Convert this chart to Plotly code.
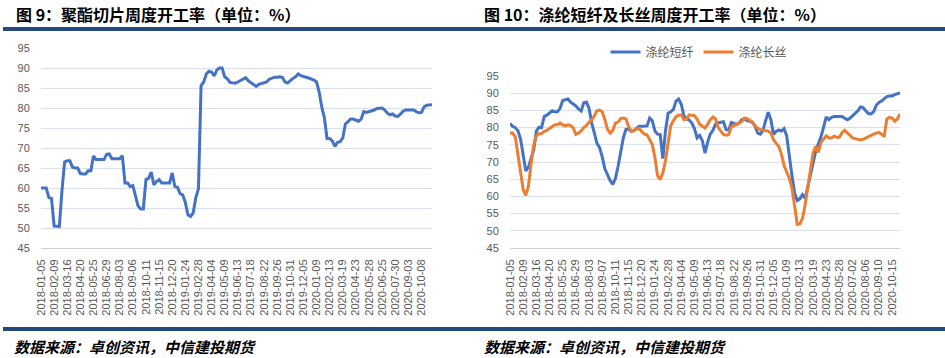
import plotly.graph_objects as go

# ---------------- data ----------------
chip_rate = [60, 60, 60, 57.6, 57.4, 50.5, 50.4, 50.4, 59.4, 66.5,
             66.8, 66.8, 65.2, 65, 65, 63.6, 63.5, 63.5, 64.3, 64.3,
             68, 67.1, 67.1, 67.1, 67.1, 68.4, 68.5, 67.3, 67.3, 67.3,
             67.3, 68.1, 61.25, 61.25, 60.4, 60.6, 57.8, 55.5, 54.75, 54.75,
             62.1, 62.4, 64, 60.8, 61.6, 62.1, 61.25, 61.25, 61.25, 61.25,
             63.75, 60.4, 60.2, 58.6, 58.3, 56.4, 53.3, 52.9, 53.8, 57.6,
             59.8, 85.6, 86.5, 88.5, 89.2, 89, 88, 89.5, 90, 90,
             87.8, 87.3, 86.4, 86.3, 86.2, 86.5, 86.8, 87.2, 87.6, 86.8,
             86.3, 85.75, 85.4, 85.9, 86.1, 86.2, 86.5, 87.2, 87.5, 87.7,
             87.7, 87.8, 87.6, 86.5, 86.25, 86.9, 87.4, 87.8, 88.5, 88.1,
             87.8, 87.7, 87.5, 87.3, 87, 86.5, 84, 80.2, 77.5, 72.4,
             72.4, 71.8, 70.4, 71.4, 71.6, 72.5, 76, 76.6, 77.25, 77.25,
             77, 76.7, 77.2, 79.1, 78.9, 79.1, 79.2, 79.5, 79.9, 80,
             80, 79.5, 78.7, 78.3, 78.5, 78, 77.9, 78.5, 79.2, 79.5,
             79.5, 79.6, 79.5, 79.1, 78.8, 78.9, 80.3, 80.7, 80.8, 80.8]

chip_ticks = ["2018-01-05", "2018-02-09", "2018-03-16", "2018-04-20", "2018-05-25",
              "2018-06-29", "2018-08-03", "2018-09-06", "2018-10-11", "2018-11-15",
              "2018-12-20", "2019-01-24", "2019-02-28", "2019-04-04", "2019-05-09",
              "2019-06-13", "2019-07-18", "2019-08-22", "2019-09-26", "2019-10-31",
              "2019-12-05", "2020-01-09", "2020-02-13", "2020-03-19", "2020-04-23",
              "2020-05-28", "2020-06-25", "2020-07-30", "2020-09-03", "2020-10-08"]

staple_rate = [81.2, 80.4, 80, 79.1, 76.7, 71.4, 67.4, 68.5, 70.8, 73.5,
               79, 80.1, 80, 83.3, 83.6, 84.3, 84.9, 84.6, 84.6, 85.6,
               87.9, 88.1, 88.3, 87.4, 86.8, 86.3, 85.4, 84.8, 87.2, 87.4,
               85.6, 81.3, 78.5, 75.4, 74.2, 71.5, 68, 66, 64.6, 63.5,
               65.2, 68.7, 73.2, 77, 79.5, 79.6, 78.9, 79.1, 79.8, 80.4,
               80.4, 80.4, 80.5, 82.8, 82, 79, 78.1, 78, 71, 79,
               84.2, 84.6, 85.3, 87.7, 88.3, 86.8, 83.4, 82.5, 82.2, 81.3,
               79.7, 77, 77.7, 76.2, 72.6, 75.8, 78.1, 79.2, 81, 81.4,
               81.6, 81.7, 79.4, 79.3, 81.5, 81.1, 80.9, 81.4, 82.3, 82.5,
               82, 81.8, 81.5, 80.4, 78.4, 78.1, 79.2, 82, 84.5, 82.3,
               78, 78.9, 79.3, 79, 79.7, 77.6, 71.3, 66, 61, 58.8,
               59.3, 60.5, 59.4, 63, 66.3, 69.6, 73.1, 75.2, 77.3, 80.1,
               83.1, 82.3, 83, 83.2, 83.2, 83.2, 83.2, 82.7, 82.3, 82.7,
               83.4, 84.2, 84.9, 86, 85.8, 84.9, 84.1, 84, 84.6, 86.5,
               87.3, 87.7, 88.3, 89, 89.2, 89.2, 89.6, 89.9, 90.1]

filament_rate = [78.4, 78.4, 77.3, 71.8, 67.5, 62, 60.3, 63, 69.5, 75,
                 77.6, 78.2, 78.3, 78.9, 79.2, 79.7, 80.4, 80.8, 80.8, 81.3,
                 80.8, 80.5, 80.8, 80.6, 79.9, 78, 78.4, 79, 80, 80.6,
                 81.6, 82.2, 83.4, 84.9, 85.1, 84.6, 82.3, 79.5, 78.4, 79.2,
                 81.3, 81.6, 82.6, 82.8, 82.5, 80.3, 79, 79.1, 79.6, 79.8,
                 78.8, 78.1, 77.9, 76.5, 75.1, 71.3, 66, 64.9, 66.8, 70.4,
                 75.5, 80.6, 82, 83.2, 83.6, 83.7, 82.3, 82.5, 83.7, 83.7,
                 83.5, 82.5, 81, 80.4, 79.9, 81, 82.3, 83.1, 82.5, 80,
                 78.9, 78, 77.8, 78, 80.2, 80.7, 81, 81.3, 81.8, 82.8,
                 82.6, 82.1, 81.6, 80.5, 79.8, 79.4, 79.3, 79.2, 79, 78.4,
                 76.5, 75.4, 74.5, 72.3, 69, 67.1, 65.2, 62.5, 56.6, 51.9,
                 52, 53.6, 57.6, 62.6, 68, 72.6, 74.6, 72.8, 75.7, 76.7,
                 77.6, 77, 77, 77.5, 77.2, 77.2, 78.5, 79.2, 78.4, 77.6,
                 77, 76.8, 76.5, 76.4, 76.6, 77, 77.5, 77.8, 78.1, 78.4,
                 78.6, 78.1, 77.4, 82.5, 83, 82.8, 81.9, 82.5, 84]

fiber_ticks = ["2018-01-05", "2018-02-09", "2018-03-16", "2018-04-20", "2018-05-25",
               "2018-06-29", "2018-08-03", "2018-09-07", "2018-10-11", "2018-11-15",
               "2018-12-20", "2019-01-24", "2019-02-28", "2019-04-04", "2019-05-09",
               "2019-06-13", "2019-07-18", "2019-08-22", "2019-09-26", "2019-10-31",
               "2019-12-05", "2020-01-09", "2020-02-13", "2020-03-19", "2020-04-23",
               "2020-05-28", "2020-07-02", "2020-08-06", "2020-09-10", "2020-10-15"]

y_ticks = [45, 50, 55, 60, 65, 70, 75, 80, 85, 90, 95]

# ---------------- figure ----------------
W, H = 945, 358
def px_x(x): return x / W
def px_y(y): return (H - y) / H

NAVY = "#244A7C"
BLUE = "#4472C4"
ORANGE = "#ED7D31"
GRID = "#D9E1F0"
TICKC = "#595959"
NUMFONT = "Liberation Sans, Noto Sans CJK SC"
CJK = "Noto Sans CJK SC"

fig = go.Figure()
fig.add_trace(go.Scatter(x=list(range(len(chip_rate))), y=chip_rate, mode="lines",
                         line=dict(color=BLUE, width=3), showlegend=False,
                         xaxis="x", yaxis="y"))
fig.add_trace(go.Scatter(x=list(range(len(staple_rate))), y=staple_rate, mode="lines",
                         name="涤纶短纤", line=dict(color=BLUE, width=3),
                         xaxis="x2", yaxis="y2"))
fig.add_trace(go.Scatter(x=list(range(len(filament_rate))), y=filament_rate, mode="lines",
                         name="涤纶长丝", line=dict(color=ORANGE, width=3),
                         xaxis="x2", yaxis="y2"))

def xaxis_cfg(domain, n, ticks):
    return dict(domain=domain, range=[0, n - 1], tickmode="array",
                tickvals=[5 * i for i in range(len(ticks))], ticktext=ticks,
                tickangle=-90, tickfont=dict(family=NUMFONT, size=11, color=TICKC),
                showgrid=False, zeroline=False, showline=True, linecolor="#D0D0D0",
                linewidth=1, ticks="outside", ticklen=6, tickcolor="rgba(0,0,0,0)",
                automargin=False, fixedrange=True)

def yaxis_cfg(domain, anchor):
    return dict(domain=domain, range=[45, 95], tickmode="array", tickvals=y_ticks,
                tickfont=dict(family=NUMFONT, size=11, color=TICKC),
                showgrid=True, gridcolor=GRID, gridwidth=1, zeroline=False,
                showline=False, ticks="outside", ticklen=8, tickcolor="rgba(0,0,0,0)",
                anchor=anchor, automargin=False, fixedrange=True)

fig.update_layout(
    width=W, height=H, margin=dict(l=0, r=0, t=0, b=0),
    paper_bgcolor="white", plot_bgcolor="white",
    xaxis=dict(xaxis_cfg([px_x(41), px_x(432)], len(chip_rate), chip_ticks), anchor="y"),
    yaxis=yaxis_cfg([px_y(248), px_y(48)], "x"),
    xaxis2=dict(xaxis_cfg([px_x(510), px_x(900)], len(staple_rate), fiber_ticks), anchor="y2"),
    yaxis2=yaxis_cfg([px_y(248), px_y(76)], "x2"),
    legend=dict(orientation="h", x=px_x(699), xanchor="center", y=px_y(52), yanchor="middle",
                font=dict(family=CJK, size=12, color=TICKC), bgcolor="rgba(0,0,0,0)",
                itemwidth=30, tracegroupgap=0),
    shapes=[
        dict(type="rect", xref="paper", yref="paper", x0=px_x(3), x1=px_x(470),
             y0=px_y(31), y1=px_y(27), fillcolor=NAVY, line=dict(width=0)),
        dict(type="rect", xref="paper", yref="paper", x0=px_x(470), x1=px_x(945),
             y0=px_y(31), y1=px_y(27), fillcolor=NAVY, line=dict(width=0)),
        dict(type="rect", xref="paper", yref="paper", x0=px_x(3), x1=px_x(470),
             y0=px_y(331), y1=px_y(327), fillcolor=NAVY, line=dict(width=0)),
        dict(type="rect", xref="paper", yref="paper", x0=px_x(470), x1=px_x(945),
             y0=px_y(331), y1=px_y(327), fillcolor=NAVY, line=dict(width=0)),
    ],
    annotations=[
        dict(text="<b>图 9：聚酯切片周度开工率（单位：%）</b>", xref="paper", yref="paper",
             x=px_x(14), y=px_y(14), xanchor="left", yanchor="middle", showarrow=False,
             align="left", font=dict(family=CJK, size=16, color="#000000")),
        dict(text="<b>图 10：涤纶短纤及长丝周度开工率（单位：%）</b>", xref="paper", yref="paper",
             x=px_x(482), y=px_y(14), xanchor="left", yanchor="middle", showarrow=False,
             align="left", font=dict(family=CJK, size=16, color="#000000")),
        dict(text="<b><i>数据来源：卓创资讯，中信建投期货</i></b>", xref="paper", yref="paper",
             x=px_x(12), y=px_y(346), xanchor="left", yanchor="middle", showarrow=False,
             align="left", font=dict(family=CJK, size=15, color="#000000")),
        dict(text="<b><i>数据来源：卓创资讯，中信建投期货</i></b>", xref="paper", yref="paper",
             x=px_x(482), y=px_y(346), xanchor="left", yanchor="middle", showarrow=False,
             align="left", font=dict(family=CJK, size=15, color="#000000")),
    ],
)

fig.write_html("out.html", config={"displayModeBar": False},
               post_script="document.body.style.margin='0';document.body.style.overflow='hidden';")
